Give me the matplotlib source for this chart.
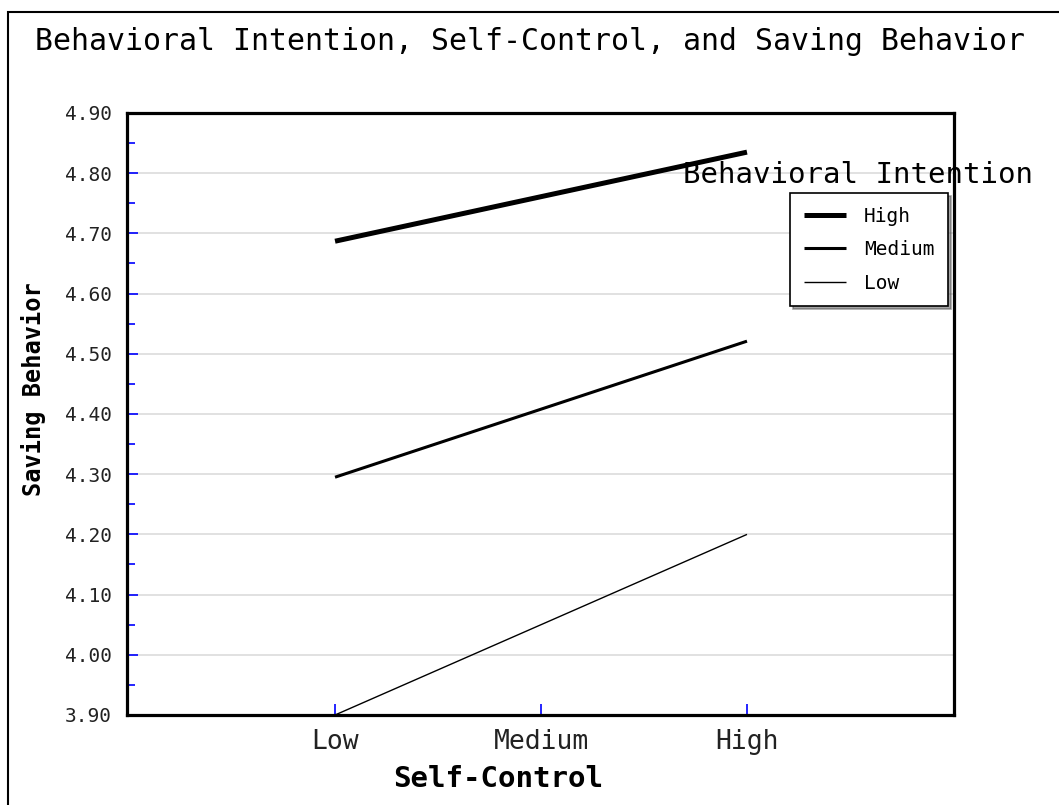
import matplotlib.pyplot as plt
from matplotlib.patches import Rectangle
from matplotlib.ticker import MultipleLocator

plt.rcParams['font.family'] = ['DejaVu Sans Mono', 'DejaVu Sans']

# data
self_control = ['Low', 'Medium', 'High']
x_pos = [0, 2]          # only Low and High are plotted
high_intention = [4.687, 4.835]
medium_intention = [4.295, 4.521]
low_intention = [3.900, 4.200]
series_names = ['High', 'Medium', 'Low']
line_widths = [3.6, 2.2, 1.0]

fig = plt.figure(figsize=(10.59, 8.05), dpi=100)
ax = fig.add_axes([127 / 1059, 90 / 805, 827 / 1059, 602 / 805])

# outer frame of the figure (cut off on right/bottom like the original)
fig.patches.append(Rectangle((8 / 1059, -0.05), 1.2, 1.05 - 12 / 805,
                             transform=fig.transFigure, fill=False,
                             edgecolor='black', linewidth=1.5))

for vals, name, lw in zip([high_intention, medium_intention, low_intention],
                          series_names, line_widths):
    ax.plot(x_pos, vals, color='black', linewidth=lw, label=name,
            solid_capstyle='butt', zorder=3)

ax.set_xlim(-1.01, 3.005)
ax.set_ylim(3.90, 4.90)
ax.set_xticks([0, 1, 2])
ax.set_xticklabels(self_control)
ax.yaxis.set_major_locator(MultipleLocator(0.1))
ax.yaxis.set_minor_locator(MultipleLocator(0.05))
ax.yaxis.set_major_formatter(lambda v, p: f'{v:.2f}')
ax.grid(axis='y', which='major', color='#dcdcdc', linewidth=1.2, zorder=0)
ax.set_axisbelow(True)

ax.tick_params(axis='y', which='major', direction='in', length=8, width=1.2,
               color='blue', labelsize=14, labelcolor='#222222', pad=11)
ax.tick_params(axis='y', which='minor', direction='in', length=6, width=1.2,
               color='blue')
ax.tick_params(axis='x', direction='in', length=8, width=1.2, color='blue',
               labelsize=19, labelcolor='#222222', pad=10)
for s in ax.spines.values():
    s.set_linewidth(2.3)

ax.set_xlabel('Self-Control', fontsize=21, fontweight='bold')
ax.xaxis.set_label_coords((498 - 127) / 827, -(765 - 715) / 602)
ax.set_ylabel('Saving Behavior', fontsize=17, fontweight='bold')
ax.yaxis.set_label_coords(-(127 - 46) / 827, 0.5 + (413 - 388) / 602)

fig.text(530 / 1059, 1 - 42 / 805, 'Behavioral Intention, Self-Control, and Saving Behavior',
         ha='center', va='center', fontsize=21.5)

ax.text((858 - 127) / 827, 1 - (175 - 113) / 602, 'Behavioral Intention',
        transform=ax.transAxes, ha='center', va='center', fontsize=21, zorder=5)

leg = ax.legend(loc='upper left', bbox_to_anchor=((790 - 127) / 827, 1 - (193 - 113) / 602),
                fontsize=14, frameon=True, fancybox=False, shadow=True,
                handlelength=2.2, handletextpad=0.9, labelspacing=0.75,
                borderpad=0.7, borderaxespad=0)
leg.get_frame().set_edgecolor('black')
leg.get_frame().set_linewidth(1.2)

fig.savefig('out.png', dpi=100)
